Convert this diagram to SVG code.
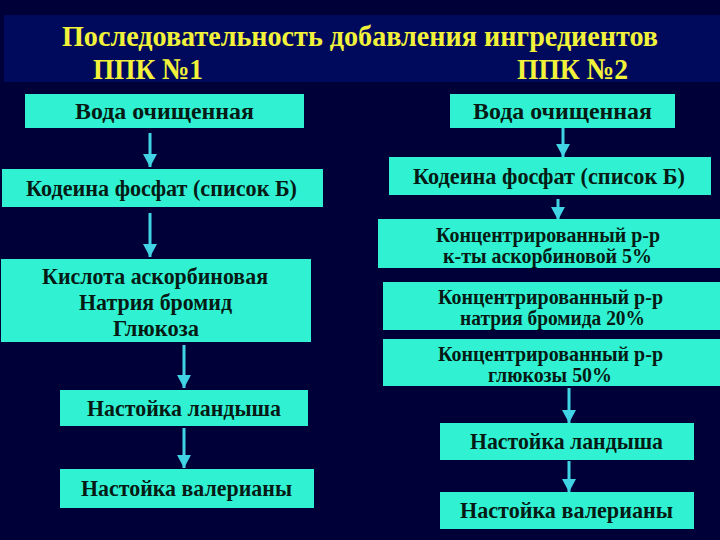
<svg xmlns="http://www.w3.org/2000/svg" width="720" height="540" viewBox="0 0 720 540">
<style>
.bg{fill:#000038}
.band{fill:#000a5c}
.box{fill:#30f2d2}
.t{font-family:"Liberation Serif","Times New Roman",serif;font-weight:bold;fill:#051a14;text-anchor:middle;font-size:23px}
.s{font-size:20px}
.h{font-family:"Liberation Serif","Times New Roman",serif;font-weight:bold;fill:#f2f23a;text-anchor:middle;font-size:30px}
.c line{stroke:#40d4e4;stroke-width:3}
</style>
<defs>
<marker id="av" markerUnits="userSpaceOnUse" markerWidth="14" markerHeight="13" viewBox="0 0 14 13" refX="7" refY="13" orient="0">
<path d="M0,0 L14,0 L7,13 Z" fill="#40d4e4"/>
</marker>
</defs>
<rect class="bg" x="0" y="0" width="720" height="540"/>
<rect class="band" x="4" y="15" width="716" height="67"/>
<g id="title">
<text class="h" x="360" y="46" textLength="596" lengthAdjust="spacingAndGlyphs">Последовательность добавления ингредиентов</text>
<text class="h" x="148" y="79" textLength="110" lengthAdjust="spacingAndGlyphs">ППК №1</text>
<text class="h" x="572.5" y="79" textLength="111" lengthAdjust="spacingAndGlyphs">ППК №2</text>
</g>
<g class="c" id="connectors">
<line x1="150" y1="133" x2="150" y2="167" marker-end="url(#av)"/>
<line x1="150" y1="213" x2="150" y2="257" marker-end="url(#av)"/>
<line x1="184" y1="345" x2="184" y2="388" marker-end="url(#av)"/>
<line x1="184" y1="428" x2="184" y2="468" marker-end="url(#av)"/>
<line x1="563" y1="128" x2="563" y2="157" marker-end="url(#av)"/>
<line x1="558" y1="199" x2="558" y2="220" marker-end="url(#av)"/>
<line x1="569" y1="388" x2="569" y2="423" marker-end="url(#av)"/>
<line x1="569" y1="461" x2="569" y2="492" marker-end="url(#av)"/>
</g>
<g id="l1"><rect class="box" x="25" y="94" width="279" height="34"/><text class="t" x="164.5" y="119" textLength="179" lengthAdjust="spacingAndGlyphs">Вода очищенная</text></g>
<g id="l2"><rect class="box" x="2" y="169" width="321" height="38"/><text class="t" x="161.5" y="196" textLength="271" lengthAdjust="spacingAndGlyphs">Кодеина фосфат (список Б)</text></g>
<g id="l3"><rect class="box" x="1" y="259" width="310" height="83"/>
<text class="t" x="155" y="284" textLength="226" lengthAdjust="spacingAndGlyphs">Кислота аскорбиновая</text>
<text class="t" x="155.5" y="310" textLength="153" lengthAdjust="spacingAndGlyphs">Натрия бромид</text>
<text class="t" x="156" y="336" textLength="86" lengthAdjust="spacingAndGlyphs">Глюкоза</text></g>
<g id="l4"><rect class="box" x="60" y="390" width="248" height="36"/><text class="t" x="184" y="416" textLength="194" lengthAdjust="spacingAndGlyphs">Настойка ландыша</text></g>
<g id="l5"><rect class="box" x="60" y="469" width="254" height="39"/><text class="t" x="186.5" y="496" textLength="211" lengthAdjust="spacingAndGlyphs">Настойка валерианы</text></g>
<g id="r1"><rect class="box" x="450" y="94" width="225" height="34"/><text class="t" x="562.5" y="119" textLength="179" lengthAdjust="spacingAndGlyphs">Вода очищенная</text></g>
<g id="r2"><rect class="box" x="389" y="157" width="322" height="38"/><text class="t" x="549" y="184" textLength="272" lengthAdjust="spacingAndGlyphs">Кодеина фосфат (список Б)</text></g>
<g id="r3"><rect class="box" x="378" y="219" width="342" height="49"/>
<text class="t s" x="548" y="242" textLength="224" lengthAdjust="spacingAndGlyphs">Концентрированный р-р</text>
<text class="t s" x="547.5" y="263" textLength="209" lengthAdjust="spacingAndGlyphs">к-ты аскорбиновой 5%</text></g>
<g id="r4"><rect class="box" x="383" y="282" width="337" height="48"/>
<text class="t s" x="550.5" y="304" textLength="225" lengthAdjust="spacingAndGlyphs">Концентрированный р-р</text>
<text class="t s" x="552.5" y="325" textLength="185" lengthAdjust="spacingAndGlyphs">натрия бромида 20%</text></g>
<g id="r5"><rect class="box" x="383" y="339" width="337" height="47"/>
<text class="t s" x="550.5" y="361" textLength="225" lengthAdjust="spacingAndGlyphs">Концентрированный р-р</text>
<text class="t s" x="550" y="382" textLength="124" lengthAdjust="spacingAndGlyphs">глюкозы 50%</text></g>
<g id="r6"><rect class="box" x="440" y="423" width="254" height="37"/><text class="t" x="566.5" y="449" textLength="193" lengthAdjust="spacingAndGlyphs">Настойка ландыша</text></g>
<g id="r7"><rect class="box" x="440" y="492" width="254" height="37"/><text class="t" x="566.5" y="518" textLength="213" lengthAdjust="spacingAndGlyphs">Настойка валерианы</text></g>
</svg>
